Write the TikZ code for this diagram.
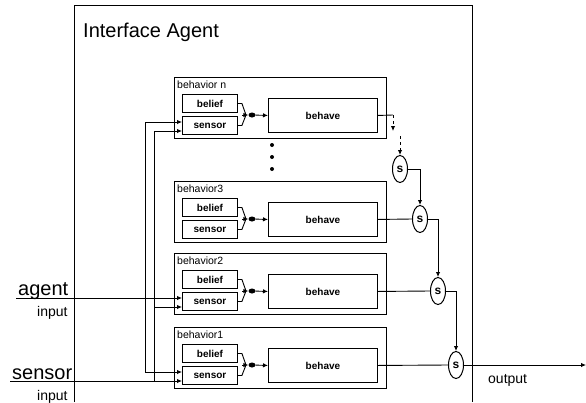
\documentclass[tikz,border=0pt]{standalone}
\usepackage{fontspec}
\setmainfont{Liberation Sans}
\usetikzlibrary{arrows.meta,shapes.geometric}
\tikzset{
 wire/.style={line width=0.9pt},
 arr/.style={wire,-{Latex[length=5pt,width=4.5pt]}},
 bframe/.style={draw,line width=0.9pt,anchor=north west,inner sep=0pt,minimum width=212pt,minimum height=61pt},
 subbox/.style={draw,line width=0.9pt,inner sep=0pt,anchor=north west,minimum width=55pt,minimum height=18pt,font=\fontsize{10}{12}\selectfont\bfseries},
 behbox/.style={draw,line width=0.9pt,inner sep=0pt,anchor=north west,minimum width=109pt,minimum height=34pt,font=\fontsize{10}{12}\selectfont\bfseries},
 blabel/.style={inner sep=0pt,anchor=base west,font=\fontsize{10.5}{12}\selectfont},
 snode/.style={draw,ellipse,line width=1pt,inner sep=0pt,minimum width=15pt,minimum height=27pt,font=\fontsize{12}{13}\selectfont\bfseries},
 dotnode/.style={circle,fill,inner sep=0pt,minimum size=4pt},
 blob/.style={ellipse,fill,inner sep=0pt,minimum width=7pt,minimum height=5pt},
 biglabel/.style={inner sep=0pt,anchor=base west,font=\fontsize{20}{22}\selectfont},
 smalllabel/.style={inner sep=0pt,anchor=base west,font=\fontsize{14}{16}\selectfont},
}
\newcommand\behblock[3]{%
 \node[bframe] (box#1) at (174,#2) {};
 \node[blabel] (lab#1) at (177,#2+11) {#3};
 \node[subbox] (bel#1) at (182,#2+17) {belief};
 \node[subbox] (sen#1) at (182,#2+39) {sensor};
 \node[behbox] (beh#1) at (268,#2+21) {behave};
 \coordinate (j#1) at (246,#2+38);
 \node[blob] (dot#1) at (252,#2+38) {};
 \draw[wire] (bel#1.east) -- ++(4,0) -- (j#1);
 \draw[wire] (sen#1.east) -- ++(4,0) -- (j#1);
 \draw[arr] ([xshift=-4pt]j#1) -- (dot#1.west);
 \draw[arr] (dot#1) -- (beh#1.west);
 \coordinate (inA#1) at (182,#2+45);
 \coordinate (inB#1) at (182,#2+54);
}
\begin{document}
\begin{tikzpicture}[x=1pt,y=-1pt]
\useasboundingbox (0,0) rectangle (586,402);
\draw[wire] (74,402) -- (74,5) -- (472,5) -- (472,402);
\node[inner sep=0pt,anchor=base west,font=\fontsize{20}{22}\selectfont] (title) at (83,37) {Interface Agent};
\behblock{n}{77}{behavior n}
\behblock{3}{181}{behavior3}
\behblock{2}{253}{behavior2}
\behblock{1}{327}{behavior1}
% continuation dots
\node[dotnode] (d1) at (272,145) {};
\node[dotnode] (d2) at (272,157) {};
\node[dotnode] (d3) at (272,169) {};
% selectors
\node[snode] (s4) at (400,169) {s};
\node[snode] (s3) at (420,219) {s};
\node[snode] (s2) at (438,291) {s};
\node[snode] (s1) at (456,365) {s};
% behavior n output
\coordinate (on1) at (393,115);
\coordinate (on2) at (393,131);
\coordinate (on3) at (400,136);
\draw[wire] (behn.east) -- (on1);
\draw[arr,dashed] (on1) -- (on2);
\draw[arr,dashed] (on3) -- (s4.north);
\draw[arr] (s4.east) -| (s3.north);
\draw[wire] (beh3.east) -- (s3.west);
\draw[arr] (s3.east) -| (s2.north);
\draw[wire] (beh2.east) -- (s2.west);
\draw[arr] (s2.east) -| (s1.north);
\draw[wire] (beh1.east) -- (s1.west);
\coordinate (outend) at (586,365);
\draw[arr] (s1.east) -- (outend);
\node[smalllabel] (outlbl) at (488,383) {output};
% inputs
\node[biglabel] (agentlbl) at (18,295) {agent};
\node[smalllabel] (agentsub) at (37,316) {input};
\coordinate (agentin) at (16,298);
\draw[arr] (agentin) -- (inA2);
\node[biglabel] (sensorlbl) at (12,379) {sensor};
\node[smalllabel] (sensorsub) at (37,400) {input};
\coordinate (sensorin) at (10,381);
\draw[arr] (sensorin) -- (inB1);
% buses
\coordinate (busAt) at (145,122);
\coordinate (busAb) at (145,372);
\draw[wire] (busAt) -- (busAb);
\draw[arr] (busAt) -- (inAn);
\draw[arr] (busAb) -- (inA1);
\coordinate (busBt) at (154,131);
\coordinate (busBm) at (154,307);
\coordinate (busBb) at (154,381);
\draw[wire] (busBt) -- (busBb);
\draw[arr] (busBt) -- (inBn);
\draw[arr] (busBm) -- (inB2);
\end{tikzpicture}
\end{document}
